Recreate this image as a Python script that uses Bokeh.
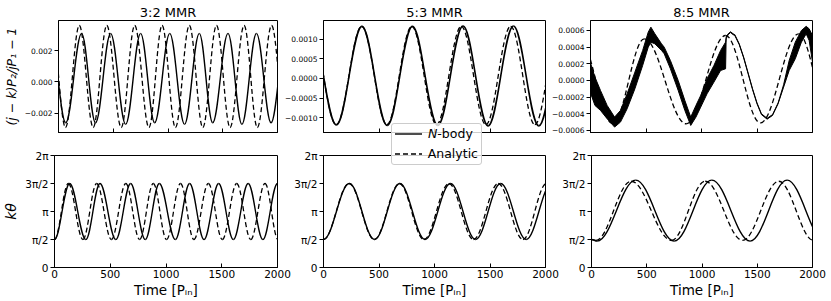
import math
import numpy as np
from bokeh.plotting import figure
from bokeh.models import Range1d, FixedTicker, ColumnDataSource, Div
from bokeh.layouts import row, column
from bokeh.embed import file_html
from bokeh.resources import INLINE

PI = math.pi

# ---------------- values ----------------
panel_titles = ["3:2 MMR", "5:3 MMR", "8:5 MMR"]
legend_labels = ["<i>N</i>-body", "Analytic"]
time_label = "Time [Pᵢₙ]"
dev_label = "(j − k)P₂/jP₁ − 1"
angle_label = "kθ"

time_ticks = [0, 500, 1000, 1500, 2000]
time_tick_labels = ["0", "500", "1000", "1500", "2000"]
angle_ticks = [0, PI / 2, PI, 3 * PI / 2, 2 * PI]
angle_tick_labels = ["0", "π/2", "π", "3π/2", "2π"]

dev_ticks_32 = [-0.002, 0, 0.002]
dev_tick_labels_32 = ["−0.002", "0.000", "0.002"]
dev_ticks_53 = [-0.001, -0.0005, 0, 0.0005, 0.001]
dev_tick_labels_53 = ["−0.0010", "−0.0005", "0.0000", "0.0005", "0.0010"]
dev_ticks_85 = [-0.0006, -0.0004, -0.0002, 0, 0.0002, 0.0004, 0.0006]
dev_tick_labels_85 = ["−0.0006", "−0.0004", "−0.0002", "0.0000", "0.0002", "0.0004", "0.0006"]

dev_limits_32 = (-0.00322, 0.00392)
dev_limits_53 = (-0.00138, 0.00148)
dev_limits_85 = (-0.000625, 0.00072)
angle_limits = (0, 2 * PI)

# turning points (time, value) of each curve
nbody_32_dev_t = [-75, 66, 211, 338, 476, 613, 750, 878, 1016, 1151, 1286, 1408, 1548, 1675, 1808, 1941, 2080]
nbody_32_dev_v = [0.0031, -0.0026, 0.0031, -0.0026, 0.0031, -0.0027, 0.0031, -0.0026, 0.0031,
                  -0.0027, 0.0031, -0.0026, 0.0031, -0.0027, 0.0031, -0.0026, 0.0031]
analytic_32_dev_t = [-62, 64, 190, 317, 441, 573, 696, 826, 946, 1068, 1195, 1318, 1443, 1567, 1695, 1816, 1946, 2075]
analytic_32_dev_v = [0.0036, -0.0029, 0.0036, -0.0029, 0.0036, -0.0029, 0.0036, -0.0029, 0.0036,
                     -0.0029, 0.0036, -0.0029, 0.0036, -0.0029, 0.0036, -0.0029, 0.0036, -0.0029]
nbody_32_ang_t = [0, 136, 281, 408, 550, 683, 814, 940, 1084, 1212, 1341, 1472, 1604, 1737, 1869, 2000, 2135]
nbody_32_ang_v = [1.571, 4.712, 1.571, 4.712, 1.571, 4.712, 1.571, 4.712, 1.571,
                  4.712, 1.571, 4.712, 1.571, 4.712, 1.571, 4.712, 1.571]
analytic_32_ang_t = [0, 124, 255, 378, 510, 640, 763, 886, 1005, 1130, 1250, 1380, 1505, 1634, 1760, 1888, 2005, 2130]
analytic_32_ang_v = [1.571, 4.712, 1.571, 4.712, 1.571, 4.712, 1.571, 4.712, 1.571,
                     4.712, 1.571, 4.712, 1.571, 4.712, 1.571, 4.712, 1.571, 4.712]

nbody_53_dev_t = [-117, 116, 346, 574, 801, 1030, 1257, 1483, 1711, 1940, 2170]
nbody_53_dev_v = [0.00133, -0.00119, 0.00133, -0.00120, 0.00133, -0.00120, 0.00134, -0.00121, 0.00134, -0.00121, 0.00133]
analytic_53_dev_t = [-115, 115, 344, 571, 795, 1018, 1241, 1463, 1686, 1904, 2125]
analytic_53_dev_v = [0.00133, -0.00118, 0.00133, -0.00118, 0.00133, -0.00118, 0.00133, -0.00118, 0.00133, -0.00118, 0.00133]
nbody_53_ang_t = [0, 233, 460, 688, 915, 1144, 1370, 1596, 1826, 2055]
nbody_53_ang_v = [1.571, 4.712, 1.571, 4.712, 1.571, 4.712, 1.571, 4.712, 1.571, 4.712]
analytic_53_ang_t = [0, 230, 458, 684, 905, 1130, 1352, 1574, 1797, 2010, 2240]
analytic_53_ang_v = [1.571, 4.712, 1.571, 4.712, 1.571, 4.712, 1.571, 4.712, 1.571, 4.712, 1.571]

# 8:5 N-body: fast oscillation seen as a filled band (time, lower edge, upper edge)
nbody_85_dev_t = [0, 40, 90, 150, 217, 270, 330, 400, 470, 520, 544, 580, 640, 664, 720, 790, 850, 903,
                  950, 993, 1050, 1112, 1172, 1217, 1222, 1240, 1262, 1285, 1300, 1340, 1380, 1420, 1460,
                  1500, 1540, 1591, 1640, 1690, 1740, 1790, 1845, 1900, 1943, 1970, 2000]
nbody_85_dev_lo = [-0.00015, -0.00030, -0.00036, -0.00046, -0.00056, -0.00050, -0.00034, -0.00010, 0.00018,
                   0.00040, 0.00046, 0.00044, 0.00036, 0.00032, 0.00014, -0.00012, -0.00036, -0.00054,
                   -0.00044, -0.00032, -0.00016, -0.00002, 0.00012, 0.00014, 0.00050, 0.00055, 0.000575,
                   0.00055, 0.00054, 0.00043, 0.00027, 0.00008, -0.00011, -0.00028, -0.00041, -0.000465,
                   -0.00042, -0.00028, -0.00008, 0.00012, 0.00026, 0.00046, 0.00056, 0.00048, 0.00022]
nbody_85_dev_hi = [0.00021, 0.00004, -0.00012, -0.00030, -0.00044, -0.00036, -0.00016, 0.00010, 0.00036,
                   0.00058, 0.00064, 0.00056, 0.00044, 0.00040, 0.00024, 0.00000, -0.00024, -0.00044,
                   -0.00030, -0.00018, 0.00002, 0.00018, 0.00036, 0.00046, 0.00052, 0.00056, 0.000585,
                   0.00056, 0.00055, 0.00044, 0.00028, 0.00009, -0.00010, -0.00027, -0.00040, -0.000455,
                   -0.00041, -0.00027, -0.00005, 0.00024, 0.00046, 0.00060, 0.00065, 0.00062, 0.00054]
analytic_85_dev_t = [-100, 200, 485, 862, 1217, 1531, 1875, 2170]
analytic_85_dev_v = [0.00050, -0.00052, 0.00050, -0.00052, 0.00054, -0.00051, 0.00056, -0.00050]
nbody_85_ang_t = [0, 51, 400, 748, 1089, 1435, 1770, 2110]
nbody_85_ang_v = [1.571, 1.48, 4.90, 1.48, 4.90, 1.48, 4.90, 1.48]
analytic_85_ang_t = [0, 40, 359, 724, 1029, 1367, 1695, 2010, 2330]
analytic_85_ang_v = [1.571, 1.52, 4.84, 1.52, 4.84, 1.52, 4.84, 1.52, 4.84]

# ---------------- drawing ----------------
FONT = "DejaVu Sans"
SOLID = dict(line_color="black", line_width=1.4)
DASHED = dict(line_color="black", line_width=1.3, line_dash="5 3")
SHAPE = 1 - 2 / math.pi  # smooth turn between turning points


def wave(p, t, v, style):
    t = np.asarray(t, float)
    v = np.asarray(v, float)
    d = t[1:] - t[:-1]
    src = ColumnDataSource(dict(x0=t[:-1], y0=v[:-1], x1=t[1:], y1=v[1:],
                                cx0=t[:-1] + SHAPE * d, cy0=v[:-1],
                                cx1=t[1:] - SHAPE * d, cy1=v[1:]))
    return p.bezier(x0="x0", y0="y0", x1="x1", y1="y1", cx0="cx0", cy0="cy0",
                    cx1="cx1", cy1="cy1", source=src, **style)


def make_fig(width, height, left, right, top, bottom, ylim, yticks, ylabels, ysize,
             bottom_row, title=None, ylabel=None, ylabel_size="13px"):
    p = figure(width=width, height=height, min_border_left=left, min_border_right=right,
               min_border_top=top, min_border_bottom=bottom,
               x_range=Range1d(0, 2000), y_range=Range1d(*ylim),
               output_backend="svg", toolbar_location=None, tools="", title=title)
    if title is not None:
        p.title.text_font = FONT
        p.title.text_font_size = "13px"
        p.title.text_font_style = "normal"
        p.title.text_color = "black"
        p.title.align = "center"
        p.title.standoff = 2
    p.xgrid.visible = False
    p.ygrid.visible = False
    p.outline_line_color = "black"
    p.outline_line_width = 1
    p.outline_line_alpha = 1
    p.background_fill_color = "white"
    p.border_fill_color = "white"
    xa = p.xaxis[0]
    xa.ticker = FixedTicker(ticks=time_ticks)
    xa.major_tick_in = 4
    xa.major_tick_out = 0
    xa.minor_tick_line_color = None
    xa.axis_line_color = "black"
    xa.major_tick_line_color = "black"
    if bottom_row:
        xa.major_label_overrides = dict(zip(time_ticks, time_tick_labels))
        xa.major_label_text_font_size = "10.5px"
        xa.major_label_standoff = 2
        xa.axis_label = time_label
        xa.axis_label_text_font = FONT
        xa.axis_label_text_font_size = "13.5px"
        xa.axis_label_text_font_style = "normal"
        xa.axis_label_text_color = "black"
        xa.axis_label_standoff = 1
    else:
        xa.major_label_overrides = {k: "" for k in time_ticks}
        xa.major_label_text_font_size = "0px"
        xa.major_label_standoff = 0
    xa.major_label_text_font = FONT
    xa.major_label_text_color = "black"
    ya = p.yaxis[0]
    ya.ticker = FixedTicker(ticks=yticks)
    ya.major_label_overrides = dict(zip(yticks, ylabels))
    ya.major_tick_in = 0
    ya.major_tick_out = 4
    ya.minor_tick_line_color = None
    ya.axis_line_color = "black"
    ya.major_tick_line_color = "black"
    ya.major_label_text_font_size = ysize
    ya.major_label_text_font = FONT
    ya.major_label_text_color = "black"
    ya.major_label_standoff = 2
    if ylabel is not None:
        ya.axis_label = ylabel
        ya.axis_label_text_font = FONT
        ya.axis_label_text_font_size = ylabel_size
        ya.axis_label_text_font_style = "italic"
        ya.axis_label_text_color = "black"
        ya.axis_label_standoff = 3
    return p


TOP_H, BOT_H = 143, 157

f11 = make_fig(281, TOP_H, 54, 4, 20, 11, dev_limits_32, dev_ticks_32, dev_tick_labels_32, "7.5px", False,
               title=panel_titles[0], ylabel=dev_label, ylabel_size="12.5px")
f12 = make_fig(267, TOP_H, 41, 3, 20, 11, dev_limits_53, dev_ticks_53, dev_tick_labels_53, "7.5px", False,
               title=panel_titles[1])
f13 = make_fig(283, TOP_H, 41, 19, 20, 11, dev_limits_85, dev_ticks_85, dev_tick_labels_85, "7.5px", False,
               title=panel_titles[2])
f21 = make_fig(291, BOT_H, 54, 14, 12, 33, angle_limits, angle_ticks, angle_tick_labels, "10.5px", True,
               ylabel=angle_label, ylabel_size="14px")
f22 = make_fig(268, BOT_H, 31, 14, 12, 33, angle_limits, angle_ticks, angle_tick_labels, "10.5px", True)
f23 = make_fig(272, BOT_H, 30, 19, 12, 33, angle_limits, angle_ticks, angle_tick_labels, "10.5px", True)

# 3:2
wave(f11, nbody_32_dev_t, nbody_32_dev_v, SOLID)
wave(f11, analytic_32_dev_t, analytic_32_dev_v, DASHED)
wave(f21, nbody_32_ang_t, nbody_32_ang_v, SOLID)
wave(f21, analytic_32_ang_t, analytic_32_ang_v, DASHED)
# 5:3
wave(f12, nbody_53_dev_t, nbody_53_dev_v, dict(line_color="black", line_width=1.6))
wave(f12, analytic_53_dev_t, analytic_53_dev_v, DASHED)
wave(f22, nbody_53_ang_t, nbody_53_ang_v, SOLID)
wave(f22, analytic_53_ang_t, analytic_53_ang_v, DASHED)
# 8:5
band = ColumnDataSource(dict(t=nbody_85_dev_t, lo=nbody_85_dev_lo, hi=nbody_85_dev_hi))
f13.varea(x="t", y1="lo", y2="hi", source=band, fill_color="black")
f13.line(x="t", y="lo", source=band, line_color="black", line_width=1)
f13.line(x="t", y="hi", source=band, line_color="black", line_width=1)
wave(f13, analytic_85_dev_t, analytic_85_dev_v, DASHED)
wave(f23, nbody_85_ang_t, nbody_85_ang_v, SOLID)
wave(f23, analytic_85_ang_t, analytic_85_ang_v, DASHED)

# legend box that straddles the two middle panels (drawn as an overlay element)
def handle(dash):
    extra = ' stroke-dasharray="5 3"' if dash else ""
    return ('<svg width="27" height="6" style="display:block;margin-right:6px">'
            '<line x1="0" y1="3" x2="27" y2="3" stroke="black" stroke-width="1.4"%s/></svg>' % extra)


rows_html = "".join(
    '<div style="height:20px;display:flex;align-items:center;">%s<span>%s</span></div>'
    % (handle(i == 1), lab) for i, lab in enumerate(legend_labels))
legend_html = ('<div style="box-sizing:border-box;width:91px;height:42px;padding:0 3px;'
               'border:1px solid #cccccc;border-radius:3px;background:rgba(255,255,255,0.8);'
               'font-family:\'DejaVu Sans\';font-size:12.5px;line-height:20px;color:black;'
               'white-space:nowrap;">%s</div>' % rows_html)
legend_box = Div(text=legend_html, margin=0,
                 styles={"position": "absolute", "left": "391px", "top": "123px", "z-index": "10"})

layout = column(row(f11, f12, f13), row(f21, f22, f23), legend_box)
open("out.html", "w").write(file_html(layout, INLINE))
